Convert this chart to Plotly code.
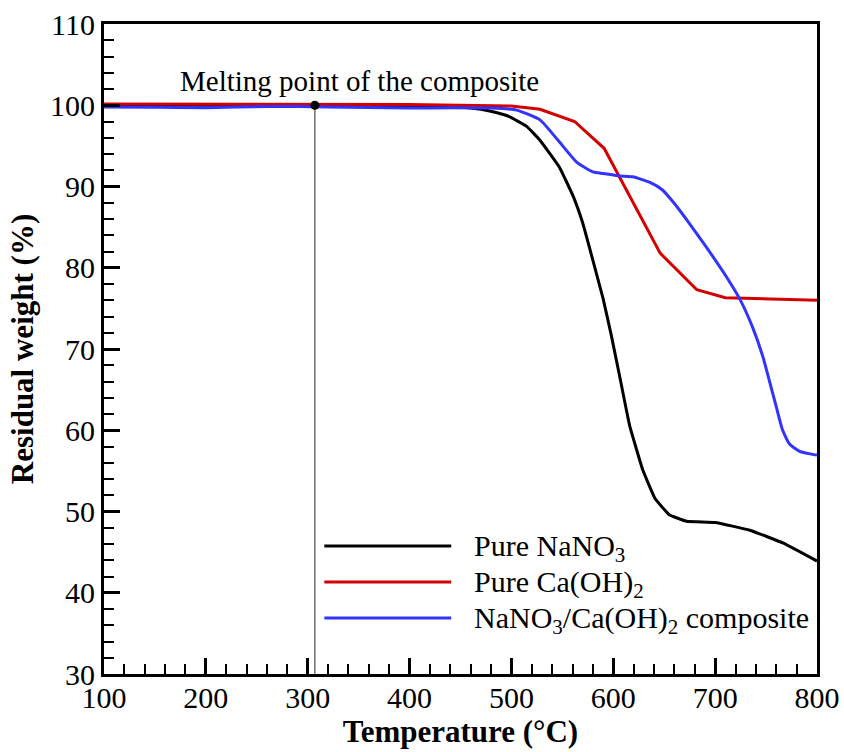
import plotly.graph_objects as go

# ---- data ----
t_nano3 = [100, 150, 200, 250, 300, 350, 400, 450, 470, 485, 498, 515, 528, 547, 561, 570, 580, 590,
           598, 606, 616, 629, 641, 655, 672, 700, 734, 767, 800]
w_nano3 = [100.0, 100.0, 100.0, 100.0, 100.0, 100.0, 99.95, 99.8, 99.5, 99.1, 98.6, 97.4, 95.7, 92.4,
           88.7, 85.5, 80.9, 76.2, 71.7, 66.8, 60.6, 55.1, 51.6, 49.6, 48.8, 48.65, 47.7, 46.1, 43.9]

t_caoh2 = [100, 200, 300, 400, 500, 528, 562, 591, 646, 682, 710, 800]
w_caoh2 = [100.15, 100.15, 100.15, 100.1, 99.9, 99.5, 98.0, 94.7, 81.8, 77.3, 76.3, 76.0]

t_comp = [100, 150, 200, 260, 320, 400, 440, 480, 505, 528, 547, 564, 580, 590, 606, 619, 636, 648,
          660, 675, 691, 711, 724, 737, 747, 753, 760, 766, 773, 783, 797, 800]
w_comp = [99.8, 99.75, 99.7, 99.85, 99.8, 99.65, 99.7, 99.65, 99.4, 98.2, 95.5, 93.0, 91.8, 91.6, 91.3,
          91.2, 90.5, 89.6, 87.9, 85.4, 82.6, 78.9, 76.2, 72.6, 69.0, 66.2, 62.9, 60.1, 58.3, 57.4, 57.0,
          56.95]

melt_T = 307
melt_W = 100

series_names = ["Pure NaNO<sub>3</sub>", "Pure Ca(OH)<sub>2</sub>",
                "NaNO<sub>3</sub>/Ca(OH)<sub>2</sub> composite"]
series_colors = ["#000000", "#d40000", "#3333ff"]

x_ticks = [100, 200, 300, 400, 500, 600, 700, 800]
y_ticks = [30, 40, 50, 60, 70, 80, 90, 100, 110]

FONT = "Liberation Serif, Times New Roman, serif"

fig = go.Figure()

# melting point line and marker
fig.add_trace(go.Scatter(x=[melt_T, melt_T], y=[30, melt_W], mode="lines",
                         line=dict(color="#707070", width=1.5), showlegend=False, hoverinfo="skip"))

fig.add_trace(go.Scatter(x=t_nano3, y=w_nano3, mode="lines", name=series_names[0],
                         line=dict(color=series_colors[0], width=3, shape="spline", smoothing=0.3),
                         showlegend=False))
fig.add_trace(go.Scatter(x=t_caoh2, y=w_caoh2, mode="lines", name=series_names[1],
                         line=dict(color=series_colors[1], width=3), showlegend=False))
fig.add_trace(go.Scatter(x=t_comp, y=w_comp, mode="lines", name=series_names[2],
                         line=dict(color=series_colors[2], width=3, shape="spline", smoothing=0.5),
                         showlegend=False))

fig.add_trace(go.Scatter(x=[melt_T], y=[melt_W], mode="markers",
                         marker=dict(color="black", size=9), showlegend=False))

fig.add_annotation(x=351, y=103.0, xref="x", yref="y", text="Melting point of the composite",
                   showarrow=False, font=dict(family=FONT, size=29, color="black"),
                   xanchor="center", yanchor="middle")

# custom legend (long line samples like the original)
leg_y = [0.197, 0.1415, 0.0862]
for name, col, yy in zip(series_names, series_colors, leg_y):
    fig.add_shape(type="line", xref="paper", yref="paper", x0=0.309, x1=0.487, y0=yy, y1=yy,
                  line=dict(color=col, width=3))
    fig.add_annotation(x=0.5165, y=yy, xref="paper", yref="paper", text=name, showarrow=False,
                       xanchor="left", yanchor="middle", yshift=-2,
                       font=dict(family=FONT, size=30, color="black"))

axis_common = dict(
    showline=True, linecolor="black", linewidth=3, mirror=True,
    ticks="inside", ticklen=16, tickwidth=3, tickcolor="black",
    showgrid=False, zeroline=False, automargin=False,
    tickfont=dict(family=FONT, size=30, color="black"),
)

fig.update_xaxes(range=[100, 800], tickvals=x_ticks, ticklabelstandoff=-5,
                 minor=dict(ticks="inside", ticklen=10, tickwidth=1.5, tickcolor="black", dtick=20, tick0=100),
                 title=dict(text="<b>Temperature (°C)</b>", font=dict(family=FONT, size=31, color="black"),
                            standoff=4),
                 **axis_common)
fig.update_yaxes(range=[30, 110], tickvals=y_ticks,
                 minor=dict(ticks="inside", ticklen=10, tickwidth=1.5, tickcolor="black", dtick=2, tick0=30),
                 title=dict(text="<b>Residual weight (%)</b>", font=dict(family=FONT, size=31, color="black"),
                            standoff=8),
                 **axis_common)

fig.update_layout(width=844, height=752, margin=dict(l=104, r=27, t=24, b=78),
                  paper_bgcolor="white", plot_bgcolor="white",
                  font=dict(family=FONT, color="black"))

fig.write_html("out.html", config={"displayModeBar": False},
               post_script="document.body.style.margin='0';document.body.style.overflow='hidden';")
